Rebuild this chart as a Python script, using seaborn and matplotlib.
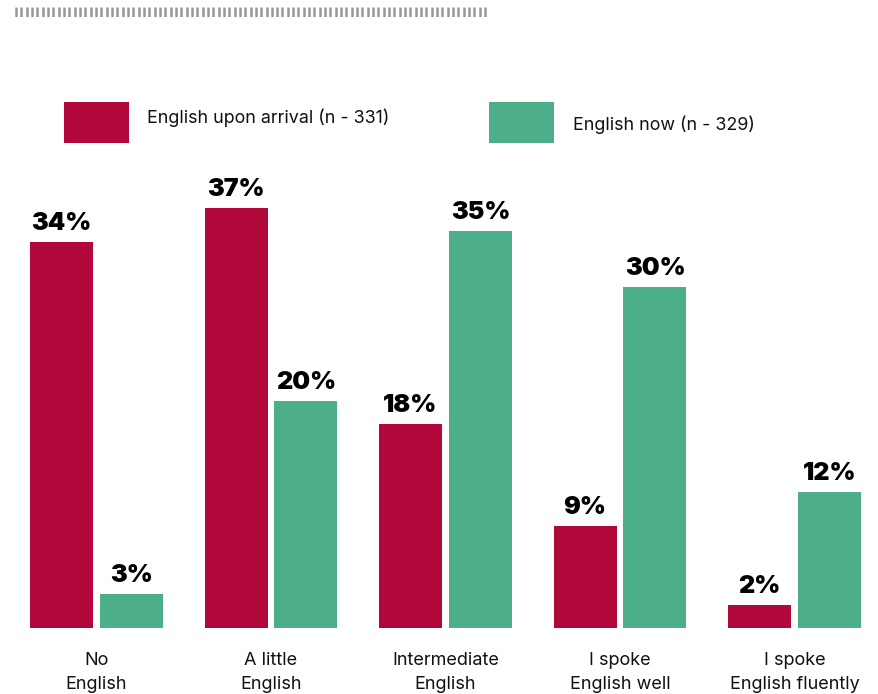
import numpy as np
import pandas as pd
import matplotlib
matplotlib.use("Agg")
import matplotlib.pyplot as plt
import seaborn as sns

categories = ["No\nEnglish", "A little\nEnglish", "Intermediate\nEnglish",
              "I spoke\nEnglish well", "I spoke\nEnglish fluently"]
arrival = [34, 37, 18, 9, 2]
now = [3, 20, 35, 30, 12]
series_names = ["English upon arrival (n - 331)", "English now (n - 329)"]
colors = ["#B0083A", "#4DAE8A"]

df = pd.DataFrame({
    "category": categories * 2,
    "value": arrival + now,
    "series": [series_names[0]] * len(categories) + [series_names[1]] * len(categories),
})

sns.set_theme(style="white")
plt.rcParams["font.family"] = ["Inter", "DejaVu Sans"]

W, H = 879, 694
fig = plt.figure(figsize=(W / 100, H / 100), dpi=100)

# main bar axes, placed in pixel terms
ax_bottom_px, ax_top_px = 628, 170
ax = fig.add_axes([0, (H - ax_bottom_px) / H, 1, (ax_bottom_px - ax_top_px) / H])
sns.barplot(data=df, x="category", y="value", hue="series", palette=colors,
            width=0.802, gap=0.1, saturation=1, linewidth=0, ax=ax, legend=False)

px_per_unit = 174.5
ax.set_xlim(-96.5 / px_per_unit, (W - 96.5) / px_per_unit)
ax.set_ylim(0, (ax_bottom_px - ax_top_px) / 11.35)
ax.axis("off")

for cont in ax.containers:
    for bar in cont:
        h = bar.get_height()
        ax.annotate(f"{h:.0f}%", (bar.get_x() + bar.get_width() / 2, h),
                    xytext=(0, 7), textcoords="offset pixels",
                    ha="center", va="bottom", fontsize=18, fontweight="black",
                    color="black", family=["Inter", "DejaVu Sans"])

for i, cat in enumerate(categories):
    ax.annotate(cat, (i, 0), xytext=(0, -24), textcoords="offset pixels",
                ha="center", va="top", fontsize=13, color="#111111",
                linespacing=1.55, annotation_clip=False)

# legend swatches and labels
def px_box(x0, y0, x1, y1):
    return [x0 / W, 1 - y1 / H, (x1 - x0) / W, (y1 - y0) / H]

for (x0, tx, ty), name, c in zip([(64, 147, 118), (489, 573, 125)], series_names, colors):
    fig.patches.append(plt.Rectangle((x0 / W, 1 - 143 / H), 65 / W, 41 / H,
                                     transform=fig.transFigure, color=c, linewidth=0))
    fig.text(tx / W, 1 - ty / H, name, ha="left", va="center", fontsize=12.9, color="#111111")

# decorative tick strip at the top
deco = fig.add_axes(px_box(0, 7, W, 17))
deco.set_xlim(0, W)
deco.set_ylim(0, 1)
deco.axis("off")
deco.vlines(np.arange(16, 488, 5.33), 0, 1, color="#999999", linewidth=1.8)

fig.savefig("out.png", dpi=100)
